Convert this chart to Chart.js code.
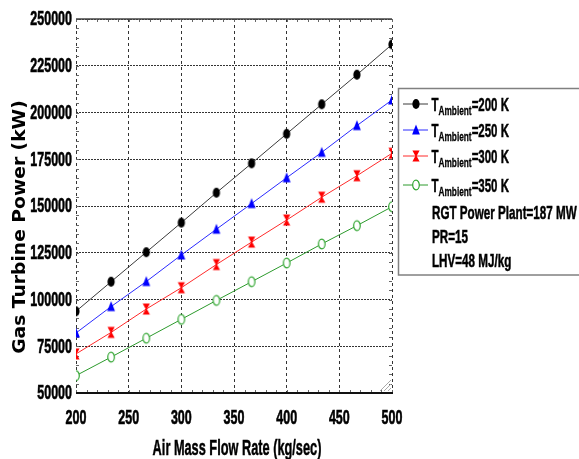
<!DOCTYPE html>
<html>
<head>
<meta charset="utf-8">
<script src="https://cdn.jsdelivr.net/npm/chart.js@4.4.1/dist/chart.umd.min.js"></script>
<style>
  html, body { margin: 0; padding: 0; background: #fff; overflow: hidden; }
  #wrap { width: 579px; height: 459px; position: relative; }
</style>
</head>
<body>
<div id="wrap"><canvas id="c" width="579" height="459"></canvas></div>
<script>
// Air mass flow rate (kg/sec) and gas turbine power (kW) at four ambient temperatures
const flowRate  = [200, 233.3, 266.7, 300, 333.3, 366.7, 400, 433.3, 466.7, 500];
const power200K = [93700, 109500, 125300, 141100, 157100, 172800, 188600, 204400, 220200, 236400];
const power250K = [82100, 96200, 109600, 123800, 137600, 151300, 165100, 178700, 193000, 206700];
const power300K = [70900, 82400, 94900, 106300, 118700, 130700, 142500, 154700, 166200, 178200];
const power350K = [59300, 69200, 79300, 89400, 99500, 109500, 119500, 129700, 139500, 149600];

const ambientTemps = ['200', '250', '300', '350'];
const plantNotes = ['RGT Power Plant=187 MW', 'PR=15', 'LHV=48 MJ/kg'];
const xTickValues = [200, 250, 300, 350, 400, 450, 500];
const yTickValues = [50000, 75000, 100000, 125000, 150000, 175000, 200000, 225000, 250000];
const xTitle = 'Air Mass Flow Rate (kg/sec)';
const yTitle = 'Gas Turbine Power (kW)';

// marker sprites (slightly taller than wide)
function makeMarker(kind, color) {
  const c = document.createElement('canvas');
  c.width = 12; c.height = 14;
  const g = c.getContext('2d');
  g.translate(6, 7);
  g.fillStyle = color; g.strokeStyle = color;
  g.beginPath();
  if (kind === 'dot') {
    g.ellipse(0, 0, 3.6, 5, 0, 0, Math.PI * 2); g.fill();
  } else if (kind === 'tri') {
    g.moveTo(0, -5.5); g.lineTo(3.9, 4.5); g.lineTo(-3.9, 4.5); g.closePath(); g.fill();
  } else if (kind === 'glass') {
    g.moveTo(-3.6, -5.5); g.lineTo(3.6, -5.5); g.lineTo(0.6, 0); g.lineTo(3.6, 5.5);
    g.lineTo(-3.6, 5.5); g.lineTo(-0.6, 0); g.closePath(); g.fill();
  } else {
    g.ellipse(0, 0, 3.3, 4.8, 0, 0, Math.PI * 2);
    g.fillStyle = '#fff'; g.fill(); g.lineWidth = 1.2; g.stroke();
  }
  return c;
}

const seriesStyle = [
  { line: '#3a3a3a', marker: makeMarker('dot', '#000') },
  { line: '#2a2aff', marker: makeMarker('tri', '#0000ff') },
  { line: '#ff2a2a', marker: makeMarker('glass', '#ff0000') },
  { line: '#2c9a2c', marker: makeMarker('ring', '#2fa52f') }
];
const seriesValues = [power200K, power250K, power300K, power350K];

const datasets = seriesValues.map((vals, i) => ({
  label: 'T=' + ambientTemps[i] + ' K',
  data: flowRate.map((x, k) => ({ x: x, y: vals[k] })),
  borderColor: seriesStyle[i].line,
  borderWidth: 1,
  pointStyle: seriesStyle[i].marker,
  pointRadius: 5,
  tension: 0
}));

// bold, horizontally condensed text with a light outline for extra weight
function drawText(ctx, str, x, y, o) {
  ctx.save();
  ctx.font = 'bold ' + o.size + 'px ' + (o.family || '"Liberation Sans", Arial, sans-serif');
  ctx.textAlign = o.align || 'left';
  ctx.textBaseline = o.baseline || 'alphabetic';
  ctx.fillStyle = o.color || '#000';
  ctx.strokeStyle = o.color || '#000';
  ctx.translate(x, y);
  if (o.rotate) ctx.rotate(o.rotate);
  ctx.scale(o.sx || 1, o.sy || 1);
  ctx.fillText(str, 0, 0);
  if (o.weight) { ctx.lineWidth = o.weight; ctx.strokeText(str, 0, 0); }
  const w = ctx.measureText(str).width * (o.sx || 1);
  ctx.restore();
  return w;
}

const framePlugin = {
  id: 'frame',
  beforeDatasetsDraw(chart) {
    const { ctx, chartArea: a, scales } = chart;
    const xs = scales.x, ys = scales.y;
    ctx.save();
    // minor tick marks on all four sides
    ctx.strokeStyle = '#666'; ctx.lineWidth = 1;
    ctx.beginPath();
    for (let v = 200; v <= 500; v += 10) {
      const px = Math.round(xs.getPixelForValue(v)) + 0.5;
      ctx.moveTo(px, a.bottom); ctx.lineTo(px, a.bottom - 3);
      ctx.moveTo(px, a.top); ctx.lineTo(px, a.top + 3);
    }
    for (let v = 50000; v <= 250000; v += 5000) {
      const py = Math.round(ys.getPixelForValue(v)) + 0.5;
      ctx.moveTo(a.left, py); ctx.lineTo(a.left + 3, py);
      ctx.moveTo(a.right, py); ctx.lineTo(a.right - 3, py);
    }
    ctx.stroke();
    // solid top and bottom axis lines
    ctx.strokeStyle = '#444'; ctx.lineWidth = 1.5;
    ctx.beginPath(); ctx.moveTo(a.left, a.top); ctx.lineTo(a.right, a.top); ctx.stroke();
    ctx.strokeStyle = '#111'; ctx.lineWidth = 2;
    ctx.beginPath(); ctx.moveTo(a.left, a.bottom); ctx.lineTo(a.right + 1, a.bottom); ctx.stroke();
    // size grip in the corner
    ctx.strokeStyle = '#aaa'; ctx.lineWidth = 1;
    ctx.beginPath();
    for (let k = 0; k < 3; k++) {
      const d = 4 + k * 4;
      ctx.moveTo(a.right - d, a.bottom - 2); ctx.lineTo(a.right - 1, a.bottom - d - 1);
    }
    ctx.stroke();
    ctx.restore();
  },
  afterDraw(chart) {
    const { ctx, chartArea: a, scales } = chart;
    const xs = scales.x, ys = scales.y;
    // tick labels
    yTickValues.forEach(v => {
      drawText(ctx, String(v), 72, ys.getPixelForValue(v) + 1, { size: 19.5, sx: 0.64, align: 'right', baseline: 'middle', weight: 0.6 });
    });
    xTickValues.forEach(v => {
      drawText(ctx, String(v), xs.getPixelForValue(v), 419, { size: 19.5, sx: 0.64, align: 'center', baseline: 'middle', weight: 0.6 });
    });
    // axis titles
    drawText(ctx, xTitle, (a.left + a.right) / 2 + 3, 455, { size: 22, sx: 0.58, align: 'center', weight: 0.5 });
    drawText(ctx, yTitle, 25, 227, {
      size: 17, sx: 1.1, align: 'center', rotate: -Math.PI / 2,
      family: '"DejaVu Sans", Verdana, sans-serif'
    });
    // legend box
    ctx.save();
    ctx.strokeStyle = '#808080'; ctx.lineWidth = 1.5;
    ctx.strokeRect(398.5, 88.5, 200, 186.5);
    ctx.restore();
    const rowBase = [110.5, 136.5, 162.5, 191.5];
    ambientTemps.forEach((t, i) => {
      const yl = rowBase[i] - 6.5;
      ctx.save();
      ctx.strokeStyle = seriesStyle[i].line; ctx.lineWidth = 1;
      ctx.beginPath(); ctx.moveTo(403, yl); ctx.lineTo(428, yl); ctx.stroke();
      const m = seriesStyle[i].marker;
      ctx.drawImage(m, 416 - m.width / 2, yl - m.height / 2);
      ctx.restore();
      let x = 431.5;
      x += drawText(ctx, 'T', x, rowBase[i], { size: 18.5, sx: 0.62, weight: 0.5 });
      x += drawText(ctx, 'Ambient', x, rowBase[i] + 4, { size: 12, sx: 0.69, weight: 0.3 });
      drawText(ctx, '=' + t + ' K', x, rowBase[i], { size: 18.5, sx: 0.62, weight: 0.5 });
    });
    const noteBase = [218.5, 242.5, 266.5];
    plantNotes.forEach((s, i) => {
      drawText(ctx, s, 432, noteBase[i], { size: 18.5, sx: 0.63, weight: 0.5 });
    });
  }
};

new Chart(document.getElementById('c'), {
  type: 'line',
  data: { datasets },
  options: {
    responsive: false,
    animation: false,
    devicePixelRatio: 1,
    layout: { padding: { top: 19, right: 187, left: 0, bottom: 0 } },
    plugins: { legend: { display: false }, tooltip: { enabled: false } },
    scales: {
      x: {
        type: 'linear', min: 200, max: 500,
        ticks: { stepSize: 50, display: false },
        grid: { color: '#333', lineWidth: 1, drawTicks: false },
        border: { display: false, dash: [3, 3] },
        afterFit(s) { s.height = 66; }
      },
      y: {
        type: 'linear', min: 50000, max: 250000,
        ticks: { stepSize: 25000, display: false },
        grid: { color: '#333', lineWidth: 1, drawTicks: false },
        border: { display: false, dash: [2, 1] },
        afterFit(s) { s.width = 76; }
      }
    }
  },
  plugins: [framePlugin]
});
</script>
</body>
</html>
